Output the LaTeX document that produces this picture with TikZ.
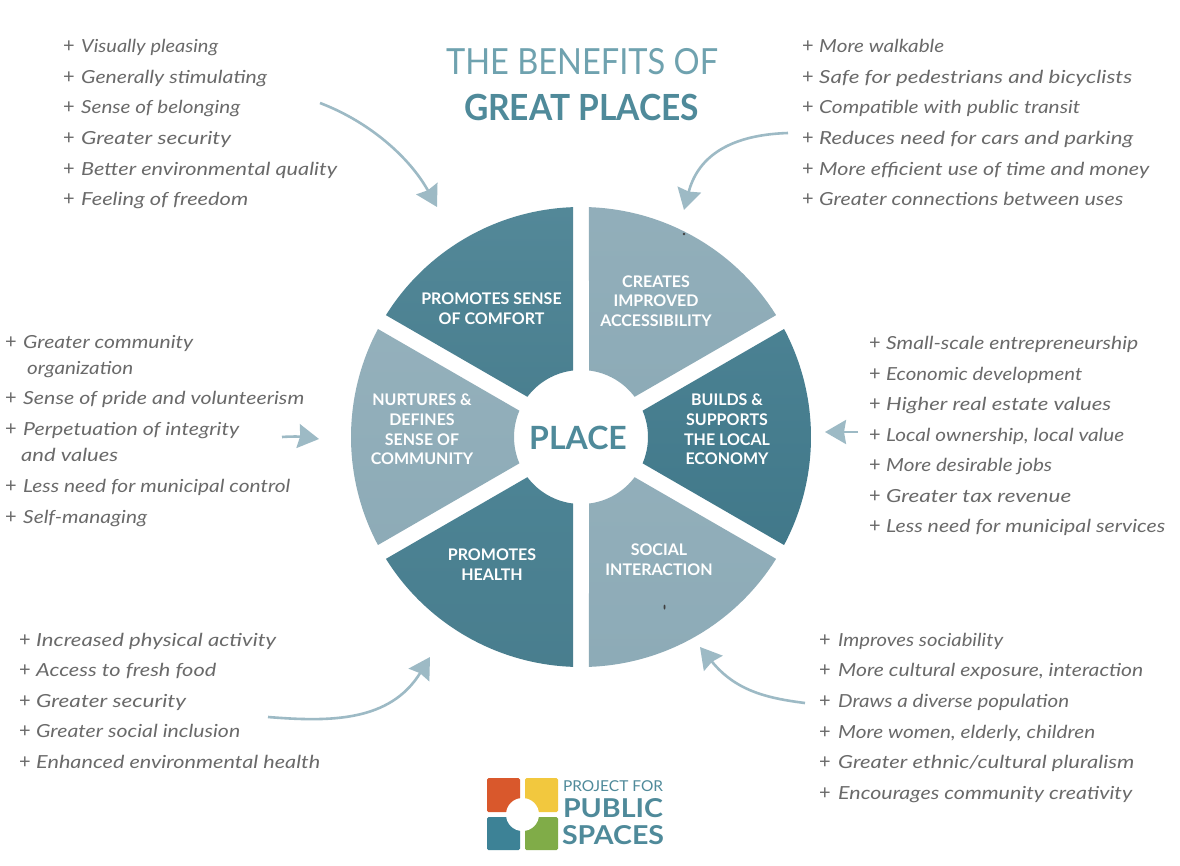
\documentclass[tikz,border=0pt]{standalone}
\usepackage{graphicx}
\usepackage{fontspec}
\setmainfont{Lato}
\usetikzlibrary{arrows.meta}
\definecolor{tealdark}{HTML}{4C8394}
\definecolor{tealdarker}{HTML}{437C8E}
\definecolor{teallight}{HTML}{8DABB7}
\definecolor{arrowc}{HTML}{9DBAC5}
\definecolor{handc}{HTML}{6A6A6A}
\definecolor{titlec}{HTML}{6FA2AF}
\definecolor{titleb}{HTML}{4F8A9A}
\newcommand{\wedgeshape}[1]{%
  (#1+1.99:230) arc[start angle=#1+1.99,end angle=#1+58.01,radius=230]
  -- (#1+53.14:67) arc[start angle=#1+53.14,end angle=#1+6.86,radius=67] -- cycle}
% \hand{name}{x of plus}{x of text}{x of end}{y}{text}
\newcommand{\hand}[6]{%
  \node[plusmark] (#1p) at (#2,#5+5.5) {+};
  \pgfmathsetmacro{\handw}{#4-#3}%
  \node[handtext] (#1) at (#3,#5+5.5) {\resizebox{\handw pt}{\height}{#6}};}
\newcommand{\handcont}[5]{%
  \pgfmathsetmacro{\handw}{#3-#2}%
  \node[handtext] (#1) at (#2,#4+5.5) {\resizebox{\handw pt}{\height}{#5}};}
\tikzset{
  handtext/.style={anchor=base west,inner sep=0pt,text=handc,font=\itshape\fontsize{18}{20}\selectfont},
  plusmark/.style={anchor=base west,inner sep=0pt,text=handc,font=\fontsize{20}{20}\selectfont},
  seglabel/.style={text=white,align=center,inner sep=0pt,font=\bfseries\fontsize{16}{19.6}\selectfont},
  benefit/.style={draw=arrowc,line width=2.6pt,-{Stealth[length=21pt,width=24pt,inset=2pt]}},
  logotile/.style={rounded corners=1.5pt},
}
\begin{document}
\begin{tikzpicture}[x=1pt,y=-1pt]
\useasboundingbox (0,0) rectangle (1180,865);
\fill[white] (0,0) rectangle (1180,865);

% wheel
\begin{scope}[shift={(581,437)},yscale=-1]
  \shade[top color=teallight!96!white,bottom color=teallight] \wedgeshape{30};
  \shade[top color=tealdarker!96!white,bottom color=tealdarker!97!black] \wedgeshape{-30};
  \shade[top color=teallight!96!white,bottom color=teallight] \wedgeshape{-90};
  \shade[top color=tealdark,bottom color=tealdark!96!black] \wedgeshape{-150};
  \shade[top color=teallight!94!white,bottom color=teallight] \wedgeshape{150};
  \shade[top color=tealdark!96!white,bottom color=tealdark!97!black] \wedgeshape{90};
\end{scope}
\fill[black!75] (684,234) circle (1.3);
\fill[black!75] (664.5,607) ellipse (1 and 2.5);

% wheel labels
\node[seglabel] (comfort) at (491.5,309) {PROMOTES SENSE\\OF COMFORT};
\node[seglabel] (access) at (656,301) {CREATES\\IMPROVED\\ACCESSIBILITY};
\node[seglabel] (community) at (422,429.5) {NURTURES \&\\DEFINES\\SENSE OF\\COMMUNITY};
\node[seglabel] (economy) at (727,429.5) {BUILDS \&\\SUPPORTS\\THE LOCAL\\ECONOMY};
\node[seglabel] (health) at (492,564.5) {PROMOTES\\HEALTH};
\node[seglabel] (social) at (659,560) {SOCIAL\\INTERACTION};
\node[inner sep=0pt,text=titleb,font=\bfseries\fontsize{32}{34}\selectfont] (place) at (578,438) {PLACE};

% title
\node[inner sep=0pt,text=titlec] (title1) at (582,62) {\resizebox{272pt}{\height}{\fontsize{36}{38}\selectfont THE BENEFITS OF}};
\node[inner sep=0pt,text=titleb] (title2) at (581.5,107) {\resizebox{235pt}{\height}{\bfseries\fontsize{36}{38}\selectfont GREAT PLACES}};

% top left list
\hand{a1}{63}{81}{218}{47}{Visually pleasing}
\hand{a2}{63}{81}{267}{78}{Generally stimulating}
\hand{a3}{63}{81}{240}{108}{Sense of belonging}
\hand{a4}{63}{81}{231}{139}{Greater security}
\hand{a5}{63}{81}{337}{170}{Better environmental quality}
\hand{a6}{63}{81}{248}{200}{Feeling of freedom}
% top right list
\hand{b1}{802}{819}{944}{47}{More walkable}
\hand{b2}{802}{819}{1132}{78}{Safe for pedestrians and bicyclists}
\hand{b3}{802}{819}{1080}{108}{Compatible with public transit}
\hand{b4}{802}{819}{1133}{139}{Reduces need for cars and parking}
\hand{b5}{802}{819}{1149}{170}{More efficient use of time and money}
\hand{b6}{802}{819}{1123}{200}{Greater connections between uses}
% left list
\hand{c1}{5}{23}{193}{343}{Greater community}
\handcont{c1b}{27}{133}{369}{organization}
\hand{c2}{5}{23}{304}{399}{Sense of pride and volunteerism}
\hand{c3}{5}{23}{239}{430}{Perpetuation of integrity}
\handcont{c3b}{21}{118}{456}{and values}
\hand{c4}{5}{23}{290}{487}{Less need for municipal control}
\hand{c5}{5}{23}{147}{518}{Self-managing}
% right list
\hand{d1}{869}{886}{1138}{344}{Small-scale entrepreneurship}
\hand{d2}{869}{886}{1082}{375}{Economic development}
\hand{d3}{869}{886}{1111}{405}{Higher real estate values}
\hand{d4}{869}{886}{1124}{436}{Local ownership, local value}
\hand{d5}{869}{886}{1052}{466}{More desirable jobs}
\hand{d6}{869}{886}{1071}{497}{Greater tax revenue}
\hand{d7}{869}{886}{1165}{527}{Less need for municipal services}
% bottom left list
\hand{e1}{19}{36}{276}{641}{Increased physical activity}
\hand{e2}{19}{36}{216}{671}{Access to fresh food}
\hand{e3}{19}{36}{186}{702}{Greater security}
\hand{e4}{19}{36}{240}{732}{Greater social inclusion}
\hand{e5}{19}{36}{320}{763}{Enhanced environmental health}
% bottom right list
\hand{f1}{819}{838}{1003}{641}{Improves sociability}
\hand{f2}{819}{838}{1143}{671}{More cultural exposure, interaction}
\hand{f3}{819}{838}{1069}{702}{Draws a diverse population}
\hand{f4}{819}{838}{1095}{733}{More women, elderly, children}
\hand{f5}{819}{838}{1134}{763}{Greater ethnic/cultural pluralism}
\hand{f6}{819}{838}{1132}{794}{Encourages community creativity}

% arrows
\coordinate (s1) at (320,103); \coordinate (t1) at (437,207);
\coordinate (s2) at (788,133); \coordinate (t2) at (684,210);
\coordinate (s3) at (282,437); \coordinate (t3) at (319,439);
\coordinate (s4) at (858,432); \coordinate (t4) at (825,432);
\coordinate (s5) at (268,717); \coordinate (t5) at (430,657);
\coordinate (s6) at (805,703); \coordinate (t6) at (700,647);
\draw[benefit] (s1) .. controls (370,122) and (410,158) .. (t1);
\draw[benefit] (s2) .. controls (725,135) and (697,160) .. (t2);
\draw[benefit] (s3) .. controls (295,436) and (305,437) .. (t3);
\draw[benefit] (s4) -- (t4);
\draw[benefit] (s5) .. controls (330,722) and (390,722) .. (t5);
\draw[benefit] (s6) .. controls (765,698) and (735,690) .. (t6);

% logo
\fill[logotile,fill={rgb,255:red,217;green,88;blue,44}] (487,778) rectangle (520,812);
\fill[logotile,fill={rgb,255:red,242;green,200;blue,62}] (525,778) rectangle (558,812);
\fill[logotile,fill={rgb,255:red,61;green,130;blue,150}] (487,817) rectangle (520,850);
\fill[logotile,fill={rgb,255:red,128;green,172;blue,72}] (525,817) rectangle (558,850);
\fill[white] (522.5,814.5) circle (16.5);
\node[inner sep=0pt,text=titleb] (logo1) at (613,786) {\resizebox{100pt}{\height}{\fontsize{15}{16}\selectfont PROJECT FOR}};
\node[inner sep=0pt,text=titleb] (logo2) at (613,808.5) {\resizebox{100pt}{\height}{\bfseries\fontsize{26}{28}\selectfont PUBLIC}};
\node[inner sep=0pt,text=titleb] (logo3) at (613,835) {\resizebox{102pt}{\height}{\bfseries\fontsize{26}{28}\selectfont SPACES}};
\end{tikzpicture}
\end{document}
